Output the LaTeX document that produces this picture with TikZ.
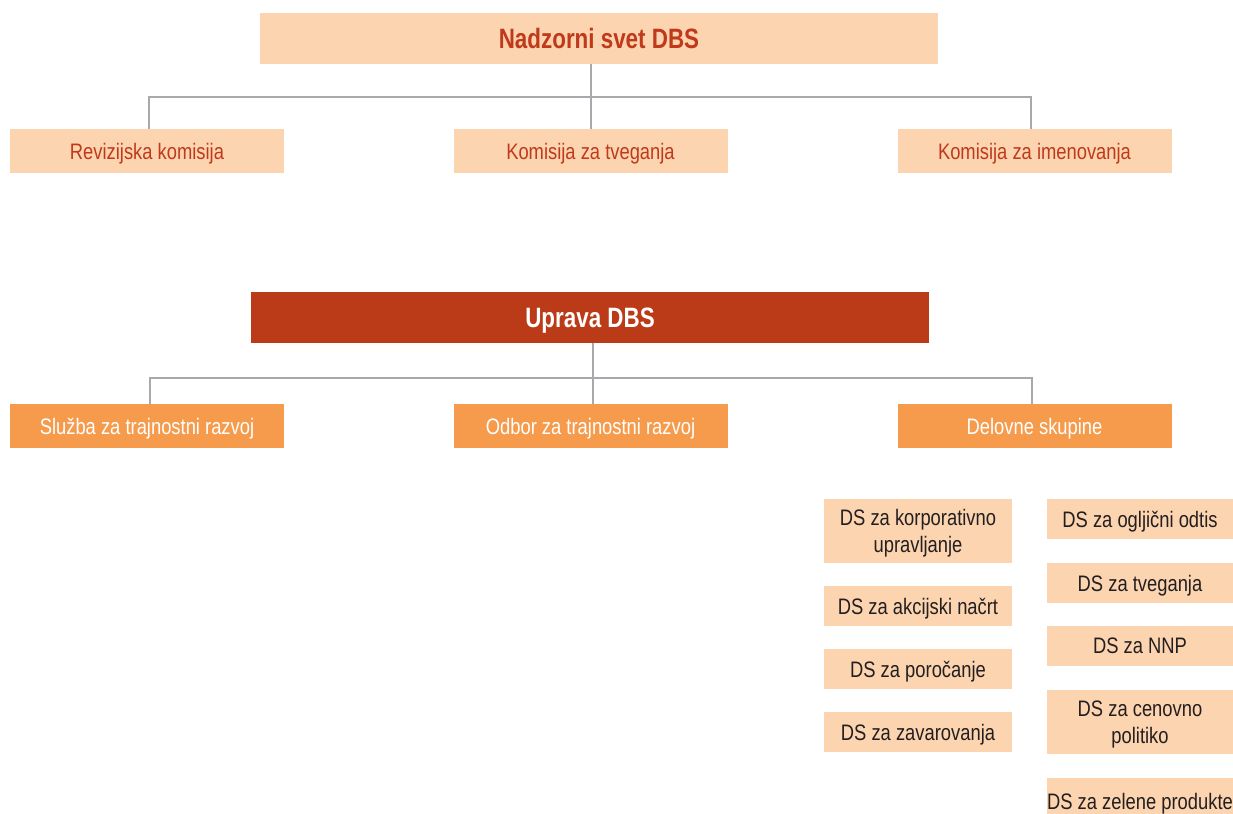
\documentclass[tikz,border=0pt]{standalone}
\usepackage{fontspec}
\setmainfont[FakeStretch=0.82, BoldFeatures={FakeStretch=0.8}]{Liberation Sans}
\usepackage{xcolor}
\usepackage{tikz}
\usetikzlibrary{positioning, calc}

\definecolor{peach}{HTML}{FCD5B0}
\definecolor{rust}{HTML}{BB3A17}
\definecolor{tangerine}{HTML}{F59B4B}
\definecolor{redtext}{HTML}{C0391B}
\definecolor{darktext}{HTML}{231F20}
\definecolor{linegray}{HTML}{A7A9AC}

\begin{document}
\begin{tikzpicture}[x=0.75pt, y=-0.75pt,
    box/.style={inner sep=0pt, align=center, text depth=0pt, font=\fontsize{16.8}{20}\selectfont},
    headbox/.style={box, minimum width=508.5pt, minimum height=38.25pt, font=\bfseries\fontsize{21}{24}\selectfont},
    combox/.style={box, fill=peach, text=redtext, minimum width=205.5pt, minimum height=33pt},
    unitbox/.style={box, fill=tangerine, text=white, minimum width=205.5pt, minimum height=33pt},
    dsbox/.style={box, fill=peach, text=darktext, minimum width=141pt, minimum height=30pt},
    conn/.style={draw=linegray, line width=1.5pt}]
        \useasboundingbox (0,0) rectangle (1233,814);
        \clip (0,0) rectangle (1233,814);

        % Nadzorni svet
        \node[headbox, fill=peach, text=redtext] (nadzor) at (599,38.5) {Nadzorni svet DBS};
        \node[combox] (revizija) at (147,151) {Revizijska komisija};
        \node[combox] (tveganja) at (590.5,151) {Komisija za tveganja};
        \node[combox] (imenovanja) at (1034.5,151) {Komisija za imenovanja};

        \coordinate (bus1) at (0,97);
        \draw[conn] ([xshift=1.5pt]revizija.north) -- ([xshift=1.5pt]revizija.north |- bus1) -- ([xshift=-3pt]imenovanja.north |- bus1) -- ([xshift=-3pt]imenovanja.north);
        \draw[conn] (tveganja.north) -- (tveganja.north |- nadzor.south);

        % Uprava
        \node[headbox, fill=rust, text=white] (uprava) at (590,317.5) {Uprava DBS};
        \node[unitbox] (sluzba) at (147,426) {Služba za trajnostni razvoj};
        \node[unitbox] (odbor) at (590.5,426) {Odbor za trajnostni razvoj};
        \node[unitbox] (delovne) at (1034.5,426) {Delovne skupine};

        \coordinate (bus2) at (0,378);
        \draw[conn] ([xshift=2.25pt]sluzba.north) -- ([xshift=2.25pt]sluzba.north |- bus2) -- ([xshift=-2.25pt]delovne.north |- bus2) -- ([xshift=-2.25pt]delovne.north);
        \draw[conn] ([xshift=1.5pt]odbor.north) -- ([xshift=1.5pt]odbor.north |- uprava.south);

        % Delovne skupine
        \node[dsbox, minimum height=48pt] (korpor) at (918,531) {DS za korporativno\\upravljanje};
        \node[dsbox] (akcija) at (918,606) {DS za akcijski načrt};
        \node[dsbox] (porocanje) at (918,669) {DS za poročanje};
        \node[dsbox] (zavar) at (918,732) {DS za zavarovanja};

        \node[dsbox, minimum width=139.5pt] (odtis) at (1140,519) {DS za ogljični odtis};
        \node[dsbox, minimum width=139.5pt] (dstveg) at (1140,583) {DS za tveganja};
        \node[dsbox, minimum width=139.5pt] (nnp) at (1140,646) {DS za NNP};
        \node[dsbox, minimum width=139.5pt, minimum height=48pt] (cenovno) at (1140,722) {DS za cenovno\\politiko};
        \node[dsbox, minimum width=139.5pt, minimum height=34.5pt] (zelene) at (1140,801) {DS za zelene produkte};
\end{tikzpicture}
\end{document}
